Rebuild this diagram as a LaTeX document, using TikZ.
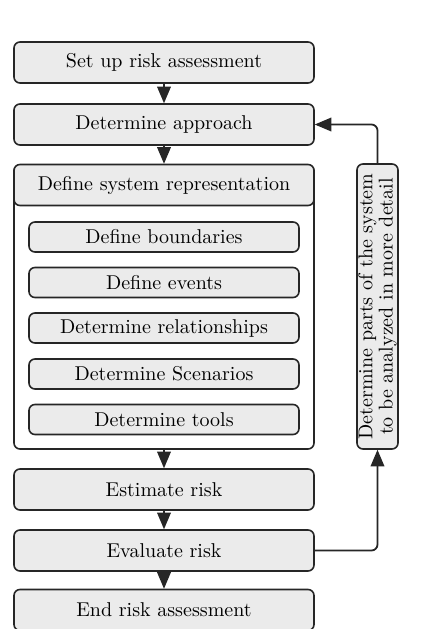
\documentclass[tikz,border=0pt]{standalone}
\usepackage{tikz}
\usetikzlibrary{arrows}
\usetikzlibrary{positioning}

\tikzset{
  stepbox/.style={draw=black!85, line width=0.8pt, rounded corners=3pt, fill=black!8,
    minimum width=150pt, minimum height=20.5pt, inner sep=0pt},
  subbox/.style={stepbox, minimum width=135pt, minimum height=15pt},
  groupbox/.style={draw=black!85, line width=0.8pt, rounded corners=3pt, fill=white,
    minimum width=150pt, minimum height=142pt, inner sep=0pt},
  loopbox/.style={stepbox, rotate=90, align=center, minimum width=142.5pt,
    minimum height=20.5pt, font=\linespread{0.85}\selectfont},
  flow/.style={->, line width=0.9pt, draw=black!85}
}

\begin{document}
\begin{tikzpicture}[line cap=round,line join=round,>=triangle 45,x=0.5pt,y=-0.5pt]
\useasboundingbox (0,0) rectangle (433,629);
% main steps
\node[stepbox] (setup) at (164,62.5) {Set up risk assessment};
\node[stepbox] (approach) at (164,124.5) {Determine approach};
\node[groupbox] (sysrep) at (164,307) {};
\node[stepbox] (sysrephead) at (164,185) {Define system representation};
\node[subbox] (bound) at (164,237) {Define boundaries};
\node[subbox] (events) at (164,282.5) {Define events};
\node[subbox] (relations) at (164,328) {Determine relationships};
\node[subbox] (scenarios) at (164,374) {Determine Scenarios};
\node[subbox] (tools) at (164,419.5) {Determine tools};
\node[stepbox] (estimate) at (164,489.5) {Estimate risk};
\node[stepbox] (evaluate) at (164,550.5) {Evaluate risk};
\node[stepbox] (endrisk) at (164,610) {End risk assessment};
% feedback
\node[loopbox] (detail) at (377.5,306.5) {Determine parts of the system\\to be analyzed in more detail};

\draw[flow] (setup) -- (approach);
\draw[flow] (approach) -- (sysrephead);
\draw[flow] (sysrep) -- (estimate);
\draw[flow] (estimate) -- (evaluate);
\draw[flow] (evaluate) -- (endrisk);
\draw[flow, rounded corners=3pt] (evaluate.east) -| (detail.west);
\draw[flow, rounded corners=3pt] (detail.east) |- (approach.east);
\end{tikzpicture}
\end{document}
